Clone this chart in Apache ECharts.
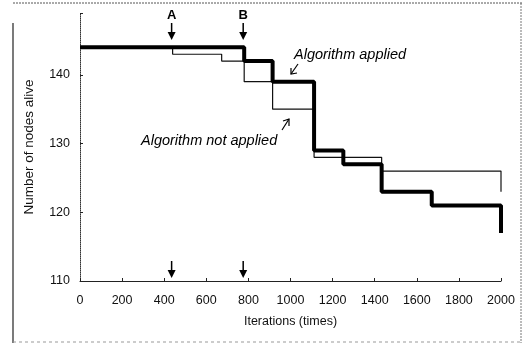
<!DOCTYPE html>
<html><head><meta charset="utf-8">
<script src="https://cdn.jsdelivr.net/npm/echarts@6/dist/echarts.min.js"></script>
<style>html,body{margin:0;padding:0;background:#fff}#c{width:525px;height:344px}</style>
</head><body><div id="c"></div>
<script>
// Data
const notAppliedIter = [0, 440, 673, 780, 915, 1112, 1433, 2000];
const notAppliedNodes = [144, 143, 142, 139, 135, 128, 126, 123];
const appliedIter = [0, 780, 915, 1112, 1251, 1433, 1671, 2000];
const appliedNodes = [144, 142, 139, 129, 127, 123, 121, 117];
const eventIter = [440, 780];
const eventLabels = ['A', 'B'];
const xTicks = [0, 200, 400, 600, 800, 1000, 1200, 1400, 1600, 1800, 2000];
const yTicks = [110, 120, 130, 140];

const pairs = (xs, ys) => xs.map((x, i) => [x, ys[i]]);
const FONT = 'Liberation Sans';
const chart = echarts.init(document.getElementById('c'), null, {renderer: 'canvas'});
chart.setOption({
  animation: false,
  backgroundColor: '#fff',
  textStyle: {fontFamily: FONT, color: '#111'},
  grid: {left: 80, right: 24, top: 13, bottom: 63},
  xAxis: {
    type: 'value', min: 0, max: 2000, interval: 200,
    name: 'Iterations (times)', nameLocation: 'middle', nameGap: 34,
    nameTextStyle: {fontFamily: FONT, fontSize: 12.5, color: '#111'},
    axisLine: {lineStyle: {color: '#222', width: 1}},
    axisTick: {inside: true, length: 3, lineStyle: {color: '#222'}},
    axisLabel: {margin: 13, fontSize: 12.5, color: '#111', fontFamily: FONT,
      formatter: v => xTicks.includes(v) ? String(v) : ''},
    splitLine: {show: false}
  },
  yAxis: {
    type: 'value', min: 110, max: 149, interval: 10,
    name: 'Number of nodes alive', nameLocation: 'middle', nameGap: 44, nameRotate: 90,
    nameTextStyle: {fontFamily: FONT, fontSize: 13.5, color: '#111'},
    axisLine: {show: true, lineStyle: {color: '#333', width: 1, type: 'dotted'}},
    axisTick: {show: true, inside: true, length: 3, lineStyle: {color: '#222'}},
    axisLabel: {margin: 10, fontSize: 12.5, color: '#111', fontFamily: FONT,
      formatter: v => yTicks.includes(v) ? String(v) : ''},
    splitLine: {show: false}
  },
  series: [
    {name: 'Algorithm not applied', type: 'line', step: 'end', symbol: 'none',
     data: pairs(notAppliedIter, notAppliedNodes),
     lineStyle: {color: '#111', width: 1.2}, z: 2},
    {name: 'Algorithm applied', type: 'line', step: 'end', symbol: 'none',
     data: pairs(appliedIter, appliedNodes),
     lineStyle: {color: '#000', width: 4}, z: 3}
  ]
});

function px(x, y) { return chart.convertToPixel({gridIndex: 0}, [x, y]); }
const g = [];
// outer frame
g.push({type: 'line', shape: {x1: 13, y1: 23, x2: 13, y2: 343}, style: {stroke: '#222', lineWidth: 1.2}});
g.push({type: 'line', shape: {x1: 13, y1: 3, x2: 522, y2: 3}, style: {stroke: '#555', lineWidth: 1, lineDash: [2, 1]}});
g.push({type: 'line', shape: {x1: 521, y1: 3, x2: 521, y2: 343}, style: {stroke: '#777', lineWidth: 1, lineDash: [2, 1]}});
g.push({type: 'line', shape: {x1: 13, y1: 342, x2: 521, y2: 342}, style: {stroke: '#999', lineWidth: 1, lineDash: [3, 3]}});

function downArrow(x, yTop, yBot) {
  g.push({type: 'line', shape: {x1: x, y1: yTop, x2: x, y2: yBot - 6}, style: {stroke: '#000', lineWidth: 1.5}});
  g.push({type: 'polygon', shape: {points: [[x - 4, yBot - 8], [x + 4, yBot - 8], [x, yBot]]}, style: {fill: '#000'}});
}
eventIter.forEach((it, i) => {
  const p = px(it, 144);
  const x = p[0] - 1;
  g.push({type: 'text', x: x, y: 15, style: {text: eventLabels[i], font: 'bold 13px "Liberation Sans"', fill: '#000', align: 'center', verticalAlign: 'middle'}});
  downArrow(x, 23, 40);
  downArrow(x, 261, 278);
});
// annotations
g.push({type: 'text', x: 294, y: 55, style: {text: 'Algorithm applied', font: 'italic 14.5px "Liberation Sans"', fill: '#000', align: 'left', verticalAlign: 'middle'}});
g.push({type: 'polyline', shape: {points: [[298, 64], [291, 74]]}, style: {stroke: '#000', lineWidth: 1.2, fill: null}});
g.push({type: 'polyline', shape: {points: [[291, 68], [291, 74], [297, 73]]}, style: {stroke: '#000', lineWidth: 1.2, fill: null}});
g.push({type: 'text', x: 141, y: 141, style: {text: 'Algorithm not applied', font: 'italic 14.5px "Liberation Sans"', fill: '#000', align: 'left', verticalAlign: 'middle'}});
g.push({type: 'polyline', shape: {points: [[282, 130], [289, 119]]}, style: {stroke: '#000', lineWidth: 1.2, fill: null}});
g.push({type: 'polyline', shape: {points: [[283, 121], [289, 119], [289, 126]]}, style: {stroke: '#000', lineWidth: 1.2, fill: null}});
chart.setOption({graphic: g});
</script>
</body></html>
